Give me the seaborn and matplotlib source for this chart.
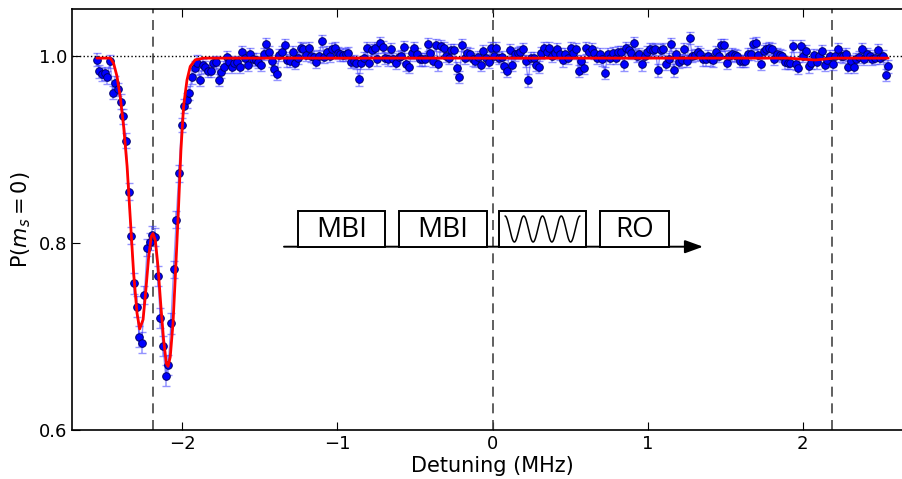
import numpy as np
import seaborn as sns
import matplotlib.pyplot as plt
from matplotlib.patches import Rectangle

# detuning sweep: 300 points between -2.55 and 2.55 MHz
x_start, x_stop, n_points = -2.55, 2.55, 300

p_ms0 = [
    # dip region
    0.9957, 0.9832, 0.9804, 0.9815, 0.9772, 0.9939, 0.9607, 0.9714, 0.9644, 0.9511,
    0.9351, 0.9094, 0.8549, 0.8078, 0.7569, 0.7319, 0.6998, 0.6934, 0.7444, 0.7950,
    0.8014, 0.8086, 0.8067, 0.7647, 0.7195, 0.6898, 0.6581, 0.6695, 0.7141, 0.7719,
    0.8246, 0.8745, 0.9262, 0.9465, 0.9522, 0.9607, 0.9772, 0.9868, 0.9928,
    # flat part
    0.974, 0.990, 0.988, 0.984, 0.984, 0.9925, 0.993, 0.974, 0.983, 0.988,
    0.9986, 0.993, 0.988, 0.9925, 0.9936, 0.988, 1.004, 0.998, 0.990, 1.0014,
    0.997, 0.996, 0.993, 0.990, 1.002, 1.0128, 1.004, 0.994, 0.986, 0.981,
    1.001, 1.004, 1.011, 0.995, 0.994, 1.004, 0.992, 0.998, 1.0086, 1.007,
    1.001, 1.008, 0.9997, 0.9986, 0.993, 0.9997, 1.0157, 0.9986, 1.004, 0.9997,
    1.007,
    1.0078, 1.0032, 1.0014, 1.0007, 1.0014, 1.0032, 0.9936, 0.9943, 0.9925, 0.9747,
    0.9925, 0.9979, 1.0078, 0.9925, 1.0057, 1.0078, 0.9961, 1.0139, 1.0093, 0.9979,
    0.9961, 1.0068, 0.9961, 0.9925, 0.9986, 0.9996, 1.0096, 0.9907, 0.9879, 1.0032,
    1.0078, 1.0014, 0.9961, 0.9961, 0.9961, 1.0121, 1.0032, 0.9943, 1.0114, 0.9907,
    1.0103, 1.0078, 0.9996, 0.9972, 1.0057, 1.0057, 0.9872, 0.9772, 1.0114, 0.9979,
    1.0032, 1.0014, 0.9961,
    0.9943, 0.9986, 0.9900, 1.0050, 0.9979, 0.9932, 1.0086, 0.9996, 1.0078, 0.9972,
    0.9986, 0.9889, 0.9836, 1.0057, 0.9900, 1.0014, 1.0032, 1.0043, 1.0068, 0.9943,
    0.9736, 0.9979, 0.9972, 0.9900, 0.9879, 1.0032, 1.0078, 1.0043, 1.0078, 0.9996,
    1.0032, 1.0068, 1.0021, 0.9950, 1.0014, 0.9979, 1.0086, 1.0032, 1.0068, 0.9836,
    0.9943, 0.9872, 1.0086, 1.0043, 1.0068, 1.0032, 0.9979, 1.0021, 0.9961, 0.9818,
    1.0014, 0.9972, 1.0032,
    0.9972, 1.0043, 1.0043, 0.9907, 1.0078, 1.0057, 1.0032, 1.0139, 0.9996, 1.0014,
    0.9907, 0.9996, 1.0043, 1.0068, 1.0057, 1.0068, 0.9843, 1.0057, 1.0068, 0.9914,
    0.9961, 1.0121, 0.9843, 1.0014, 0.9936, 0.9950, 1.0068, 0.9943, 1.0186, 0.9996,
    1.0007, 1.0043, 1.0021, 0.9961, 0.9961, 0.9996, 0.9961, 0.9950, 1.0043, 0.9996,
    1.0114, 1.0114, 0.9925, 0.9996, 1.0014, 1.0007, 0.9996, 0.9943, 0.9943, 0.9943,
    1.0021, 1.0021, 1.0129,
    1.0136, 1.0011, 0.9914, 1.0046, 1.0071, 1.0082, 1.0071, 0.9964, 1.0021, 1.0011,
    1.0000, 0.9929, 0.9922, 0.9922, 1.0107, 0.9914, 0.9868, 1.0107, 1.0000, 1.0046,
    0.9886, 0.9922, 1.0011, 0.9929, 1.0000, 1.0046, 0.9904, 0.9950, 0.9993, 0.9914,
    1.0000, 1.0071, 1.0000, 0.9993, 1.0021, 0.9879, 0.9939, 0.9879, 0.9964, 0.9986,
    1.0071, 0.9964, 1.0021, 1.0000, 0.9964, 0.9975, 1.0057, 0.9975, 1.0000, 0.9797,
    0.9886,
]

# error bars: larger inside the dip, roughly constant elsewhere
err_dip = [0.007] * 9 + [0.008] * 3 + [0.009] * 2 + [0.011] * 4 + [0.0095] * 5 \
    + [0.011] * 6 + [0.009] * 3 + [0.0075] * 7
err_flat = 0.0065

# fit curve
fit_x = [-2.55, -2.463, -2.442, -2.420, -2.399, -2.377, -2.355, -2.334, -2.313, -2.291,
         -2.274, -2.252, -2.236, -2.216, -2.199, -2.188, -2.173, -2.156, -2.137, -2.120,
         -2.102, -2.091, -2.077, -2.059, -2.043, -2.025, -2.008, -1.991, -1.969, -1.948,
         -1.916, -1.862, -1.0, 0.0, 1.0, 1.9, 2.08, 2.2, 2.55]
fit_y = [0.9975, 0.9975, 0.992, 0.978, 0.956, 0.924, 0.882, 0.825, 0.768, 0.725,
         0.708, 0.718, 0.746, 0.785, 0.807, 0.810, 0.803, 0.775, 0.732, 0.697,
         0.671, 0.668, 0.678, 0.714, 0.768, 0.832, 0.899, 0.946, 0.974, 0.9886,
         0.9957, 0.9975, 0.9975, 0.9975, 0.9975, 0.9975, 0.9955, 0.9975, 0.9975]

hf_lines = [-2.19, 0.0, 2.19]
seq_labels = ["MBI", "MBI", "", "RO"]

x_ticks = [-2, -1, 0, 1, 2]
y_ticks = [0.6, 0.8, 1.0]

sns.set_style("ticks")
plt.rcParams["font.family"] = ["DejaVu Sans"]
plt.rcParams["text.color"] = "black"
plt.rcParams["xtick.direction"] = "in"
plt.rcParams["ytick.direction"] = "in"

detuning = np.linspace(x_start, x_stop, n_points)
err = np.array(err_dip + [err_flat] * (n_points - len(err_dip)))

fig = plt.figure(figsize=(9.02, 4.79), dpi=100)
ax = fig.add_axes([72 / 902, 49 / 479, 841 / 902, 421 / 479])

ax.errorbar(detuning, p_ms0, yerr=err, fmt="-", color="#3c3cff", alpha=0.55,
            lw=1, elinewidth=1.1, capsize=3, zorder=2)
sns.scatterplot(x=detuning, y=p_ms0, color="#0000ff", edgecolor="#00006a",
                s=30, linewidth=0.7, ax=ax, zorder=3)
sns.lineplot(x=fit_x, y=fit_y, color="#ff0000", lw=2, sort=False,
             estimator=None, ax=ax, zorder=4)

for xv in hf_lines:
    ax.axvline(xv, color="#444444", lw=1.2, dashes=(6, 4), zorder=1)
ax.axhline(1.0, color="black", lw=1, ls=":", zorder=1)

ax.set_xlim(-2.71, 2.71)
ax.set_ylim(0.6, 1.05)
ax.set_xticks(x_ticks)
ax.set_xticklabels([("\u2212" if t < 0 else "") + str(abs(t)) for t in x_ticks])
ax.set_yticks(y_ticks)
ax.set_yticklabels(["%.1f" % t for t in y_ticks])
ax.tick_params(labelsize=13, length=6, top=True, right=True,
               colors="black", labelcolor="black")
ax.set_xlabel("Detuning (MHz)", fontsize=15, labelpad=2, color="black")
ax.set_ylabel("P($m_s=0$)", fontsize=15, labelpad=4, color="black")
for s in ax.spines.values():
    s.set_linewidth(1.2)
    s.set_color("black")

# pulse sequence sketch, drawn in pixel units of the figure
ins = fig.add_axes([280 / 902, (479 - 255) / 479, 430 / 902, 50 / 479])
ins.set_xlim(280, 710)
ins.set_ylim(255, 205)
ins.axis("off")
ins.patch.set_alpha(0)

boxes = [(297.7, 385), (399.3, 486.7), (499.3, 586), (600, 669.3)]
for (x0, x1), lab in zip(boxes, seq_labels):
    ins.add_patch(Rectangle((x0, 210.7), x1 - x0, 36, facecolor="white",
                            edgecolor="black", lw=1.4, zorder=2))
    if lab:
        ins.text((x0 + x1) / 2, 230, lab, ha="center", va="center", color="black",
                 fontsize=20, family="Open Sans", zorder=3)
wx = np.linspace(505, 580, 200)
ins.plot(wx, 229 - 13 * np.cos(2 * np.pi * 4 * (wx - 505) / 75), color="black",
         lw=1.1, zorder=3)
ins.annotate("", xy=(703, 246.7), xytext=(284, 246.7),
             arrowprops=dict(arrowstyle="-|>,head_length=1.1,head_width=0.4",
                             color="black", lw=1.4, shrinkA=0, shrinkB=0), zorder=1)

fig.savefig("out.png", dpi=100)
